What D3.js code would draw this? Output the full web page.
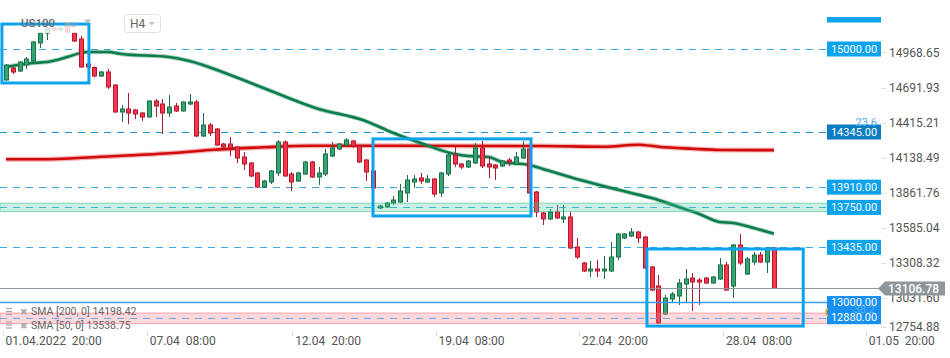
<!DOCTYPE html>
<html><head><meta charset="utf-8">
<script src="https://cdn.jsdelivr.net/npm/d3@7"></script>
<style>
html,body{margin:0;padding:0;background:#fff;}
svg{display:block;font-family:Roboto,"Noto Sans",sans-serif;}
</style></head><body>
<svg id="c" width="950" height="358"></svg>
<script>
// ---------- data ----------
const openP  = [14751.5,14846.1,14822.4,14869.8,14901.4,15043.4,15122.3,15161.7,15145.9,15161.7,15122.3,15074.9,14877.6,14850.0,14783.0,14814.6,14712.0,14499.0,14522.7,14514.8,14491.1,14459.6,14585.8,14562.1,14491.1,14546.3,14506.9,14562.1,14577.9,14309.6,14396.4,14364.9,14246.5,14246.5,14222.9,14144.0,14096.6,14017.7,13907.3,13946.7,14017.7,14262.3,14009.8,13954.6,14009.8,14104.5,13986.2,14009.8,14151.8,14207.1,14238.6,14270.2,14230.7,14120.3,14033.5,13741.6,13749.5,13781.0,13788.9,13859.9,13946.7,13978.3,13946.7,13970.4,13859.9,14009.8,14159.7,14088.7,14065.1,14096.6,14215.0,14088.7,14080.8,14072.9,14120.3,14088.7,14136.1,14207.1,13867.8,13702.1,13654.8,13710.0,13654.8,13670.6,13433.8,13307.6,13244.5,13260.2,13244.5,13244.5,13354.9,13504.8,13520.6,13552.2,13512.7,13276.0,13126.1,12905.3,13023.6,13047.3,13141.9,13189.2,13173.4,13189.2,13149.8,13181.3,13291.8,13126.1,13449.6,13220.8,13315.5,13370.7,13315.5,13425.9];
const highP  = [14877.6,14854.0,14901.4,14932.9,15059.2,15130.2,15169.6,15169.6,15169.6,15165.6,15130.2,15098.6,14885.6,14858.0,14822.4,14838.3,14716.0,14554.2,14648.9,14522.7,14499.0,14590.0,14601.6,14601.6,14633.1,14570.0,14582.0,14641.0,14593.7,14491.1,14412.2,14372.8,14254.4,14301.7,14230.7,14183.4,14104.5,14025.6,13962.5,14041.4,14278.1,14274.0,14025.6,14025.6,14112.4,14112.4,14065.1,14207.1,14262.3,14254.4,14293.8,14278.1,14238.6,14128.2,14041.4,13765.3,13788.9,13836.3,13930.9,14001.9,14001.9,14017.7,14001.9,13978.3,14025.6,14183.4,14238.6,14096.6,14120.3,14254.4,14270.2,14144.0,14088.7,14120.3,14136.1,14183.4,14270.2,14215.0,13875.7,13710.0,13733.7,13765.3,13765.3,13710.0,13504.8,13315.5,13323.4,13331.2,13362.8,13473.3,13544.3,13544.3,13583.8,13560.1,13520.6,13284.0,13212.9,13055.2,13078.8,13181.3,13260.2,13228.7,13189.2,13197.1,13205.0,13347.0,13315.5,13457.5,13536.4,13354.9,13394.4,13394.4,13433.8,13433.8];
const lowP   = [14743.6,14798.8,14814.6,14838.3,14893.5,15003.9,15067.0,15138.0,15138.0,15122.3,15051.3,14850.0,14846.1,14771.0,14775.1,14680.4,14495.0,14420.1,14404.3,14443.8,14428.0,14455.0,14459.6,14325.4,14459.6,14499.0,14503.0,14554.2,14301.7,14301.7,14309.6,14230.7,14215.0,14151.8,14096.6,14041.4,13986.2,13899.4,13899.4,13930.9,13994.1,13990.0,13875.7,13946.7,14001.9,13978.3,13923.1,13994.1,14144.0,14199.2,14230.7,14215.0,14096.6,13954.6,13883.6,13733.7,13741.6,13765.3,13781.0,13788.9,13899.4,13930.9,13938.8,13828.4,13828.4,13994.1,14065.1,14049.3,14057.2,14088.7,14057.2,13978.3,13962.5,14065.1,14072.9,14080.8,14128.2,13852.0,13670.6,13607.4,13646.9,13654.8,13623.2,13418.0,13339.1,13236.6,13197.1,13197.1,13181.3,13236.6,13331.2,13497.0,13512.7,13465.4,13260.2,13087.0,12826.0,12897.0,12992.1,12976.3,12992.1,12929.0,12976.3,13141.9,13141.9,13173.4,13087.0,13031.5,13291.8,13212.9,13291.8,13307.6,13228.7,13103.0];
const closeP = [14869.8,14814.6,14893.5,14917.2,15051.3,15122.3,15161.7,15145.9,15161.7,15130.2,15059.2,14854.0,14854.0,14783.0,14814.6,14696.2,14499.0,14522.7,14491.1,14483.2,14459.6,14585.8,14546.3,14491.1,14538.4,14506.9,14577.9,14577.9,14309.6,14396.4,14333.3,14238.6,14222.9,14215.0,14136.1,14088.7,13994.1,13907.3,13954.6,14033.5,14262.3,13994.1,13946.7,14017.7,14104.5,13986.2,14017.7,14167.6,14215.0,14246.5,14278.1,14230.7,14104.5,14025.6,13899.4,13757.4,13781.0,13804.7,13875.7,13962.5,13970.4,13954.6,13970.4,13852.0,14017.7,14159.7,14088.7,14065.1,14112.4,14215.0,14072.9,14065.1,14057.2,14112.4,14104.5,14144.0,14207.1,13859.9,13710.0,13654.8,13710.0,13662.7,13670.6,13425.9,13354.9,13244.5,13260.2,13244.5,13260.2,13354.9,13536.4,13536.4,13552.2,13504.8,13268.1,13094.6,12834.3,13031.5,13063.0,13149.8,13181.3,13157.7,13157.7,13149.8,13197.1,13291.8,13094.6,13449.6,13307.6,13339.1,13370.7,13315.5,13425.9,13106.78];

const sma50Idx = [0,4,6,9,11,12,15,17,24,27,33,39,46,52.5,57,61,66,68,71,73,77,79,84.5,88.4,92,95,99,102,105,107,110,113];
const sma50Val = [14854.0,14885.6,14893.5,14932.9,14964.5,14972.4,14972.4,14956.6,14932.9,14901.4,14790.9,14664.7,14522.7,14435.9,14333.3,14254.4,14167.6,14151.8,14144.0,14104.5,14080.8,14049.3,13962.5,13907.3,13859.9,13820.4,13749.5,13694.3,13631.2,13623.2,13583.8,13538.75];
const sma200Idx = [0,5,14,24,30,38,45,58,79,88,93,96,101,105,113];
const sma200Val = [14125.8,14125.8,14146.3,14173.1,14199.2,14220.5,14232.3,14232.3,14230.7,14225.2,14241.0,14225.2,14209.4,14199.2,14198.42];

const priceTicks = [14968.65,14691.93,14415.21,14138.49,13861.76,13585.04,13308.32,13031.60,12754.88];
const timeTickPos = [-0.5,20.7,42.1,63.2,84.3,105.5,126.5];
const timeTickLabels = ["01.04.2022  20:00","07.04  08:00","12.04  20:00","19.04  08:00","22.04  20:00","28.04  08:00","01.05  20:00"];

const dashedLevels = [15000,14345,13910,13750,13435];
const levelLabels  = ["15000.00","14345.00","13910.00","13750.00","13435.00"];
const lastPrice = 13106.78;
const solidLevel = 13000;
const zoneGreen = [13780,13714];
const zonePink  = [12913,12830];
const pinkLine  = 12870;
const boxes = [ // [idx0, idx1, priceTop, priceBottom]
  [-0.6,12.2,15193,14728],
  [54.0,77.25,14287,13679],
  [94.3,117.3,13418,12810]
];
const smaLegend = ["SMA [200, 0] 14198.42","SMA [50, 0] 13538.75"];

// ---------- scales ----------
const svg = d3.select("#c");
const x = d3.scaleLinear().domain([0,113]).range([6,774]);
const y = d3.scaleLinear().domain([12880,15000]).range([317.2,48.5]);

const BLUE = "#0ca3ec";
const candles = openP.map((o,i)=>({i,o,h:highP[i],l:lowP[i],c:closeP[i]}));

// ---------- horizontal levels ----------
const gL = svg.append("g");
gL.selectAll("line.lv").data(dashedLevels).join("line")
  .attr("x1",0).attr("x2",827)
  .attr("y1",d=>Math.round(y(d))+0.5).attr("y2",d=>Math.round(y(d))+0.5)
  .attr("stroke",(d,i)=>i===1?"#1f93d8":"#3aa9e6")
  .attr("stroke-width",1).attr("stroke-dasharray","7,6");

// SMA lines
const lineGen = d3.line().x(d=>x(d[0])).y(d=>y(d[1])).curve(d3.curveMonotoneX);
const s200 = sma200Idx.map((d,i)=>[d,sma200Val[i]]);
const s50 = sma50Idx.map((d,i)=>[d,sma50Val[i]]);
svg.append("path").attr("d",lineGen(s200)).attr("fill","none").attr("stroke","rgba(225,40,40,0.35)").attr("stroke-width",5);
svg.append("path").attr("d",lineGen(s200)).attr("fill","none").attr("stroke","#d10a0a").attr("stroke-width",2.6);
svg.append("path").attr("d",lineGen(s50)).attr("fill","none").attr("stroke","rgba(20,130,80,0.35)").attr("stroke-width",4.5);
svg.append("path").attr("d",lineGen(s50)).attr("fill","none").attr("stroke","#0e7d4d").attr("stroke-width",2.6);

// candles
const gC = svg.append("g");
const up = d=>d.c>=d.o;
gC.selectAll("line.w").data(candles).join("line")
  .attr("x1",d=>Math.round(x(d.i))+0.5).attr("x2",d=>Math.round(x(d.i))+0.5)
  .attr("y1",d=>y(d.h)).attr("y2",d=>y(d.l))
  .attr("stroke",d=>up(d)?"#1b6e47":"#b3162e").attr("stroke-width",1);
gC.selectAll("rect.b").data(candles).join("rect")
  .attr("x",d=>Math.round(x(d.i))-1.5).attr("width",4)
  .attr("y",d=>Math.min(y(d.o),y(d.c)))
  .attr("height",d=>Math.max(1.5,Math.abs(y(d.o)-y(d.c))))
  .attr("fill",d=>up(d)?"#34a571":"#f5364b")
  .attr("stroke",d=>up(d)?"#1b6e47":"#b3162e").attr("stroke-width",1);

// current price line & solid level
svg.append("line").attr("x1",0).attr("x2",880).attr("y1",Math.round(y(lastPrice))+0.5).attr("y2",Math.round(y(lastPrice))+0.5)
  .attr("stroke","#8d969b").attr("stroke-width",1);
svg.append("line").attr("x1",0).attr("x2",827).attr("y1",Math.round(y(solidLevel))+0.5).attr("y2",Math.round(y(solidLevel))+0.5)
  .attr("stroke","#3a9cf0").attr("stroke-width",1.3);

// zones
svg.append("rect").attr("x",0).attr("width",829).attr("y",y(zoneGreen[0])).attr("height",y(zoneGreen[1])-y(zoneGreen[0]))
  .attr("fill","rgba(60,200,150,0.28)").attr("stroke","rgba(60,190,140,0.55)").attr("stroke-width",1);
svg.append("rect").attr("x",0).attr("width",829).attr("y",y(zonePink[0])).attr("height",y(zonePink[1])-y(zonePink[0]))
  .attr("fill","rgba(245,120,130,0.28)").attr("stroke","rgba(240,110,120,0.55)").attr("stroke-width",1);
svg.append("line").attr("x1",0).attr("x2",827).attr("y1",y(pinkLine)).attr("y2",y(pinkLine))
  .attr("stroke","#6aa8e0").attr("stroke-width",1).attr("stroke-dasharray","7,6");

// title background
svg.append("rect").attr("x",10).attr("y",6).attr("width",100).attr("height",27).attr("fill","rgba(255,255,255,0.8)");

// drawn boxes
svg.selectAll("rect.box").data(boxes).join("rect")
  .attr("x",d=>x(d[0])).attr("y",d=>y(d[2]))
  .attr("width",d=>x(d[1])-x(d[0])).attr("height",d=>y(d[3])-y(d[2]))
  .attr("fill","none").attr("stroke",BLUE).attr("stroke-width",3);

// title
svg.append("text").attr("x",21).attr("y",27).text("US100").attr("font-size",11.5).attr("font-weight",500).attr("fill","#666");
svg.append("text").attr("x",64).attr("y",27).text("IND").attr("font-size",7.5).attr("fill","#aaa");
svg.append("path").attr("d","M84,19.5 L91,19.5 L87.5,23.5 Z").attr("fill","#bbb");
svg.append("rect").attr("x",124.5).attr("y",14.5).attr("width",36).attr("height",18).attr("rx",3)
  .attr("fill","#fff").attr("stroke","#e2e2e2");
svg.append("text").attr("x",130).attr("y",27.5).text("H4").attr("font-size",12).attr("fill","#666");
svg.append("path").attr("d","M148.5,22 L155,22 L151.75,25.5 Z").attr("fill","#c4c4c4");

// legend
const gLeg = svg.append("g");
smaLegend.forEach((t,i)=>{
  const cy = 311.5 + i*13.5;
  [ -3, 0, 3 ].forEach(dy=>gLeg.append("line").attr("x1",6).attr("x2",12).attr("y1",cy+dy).attr("y2",cy+dy).attr("stroke","#a9a9a9").attr("stroke-width",1.3));
  gLeg.append("text").attr("x",20).attr("y",cy+3.5).text("\u2716").attr("font-size",8.5).attr("fill","#a9a9a9");
  gLeg.append("text").attr("x",31).attr("y",cy+3.8).text(t).attr("font-size",10.5).attr("fill","#666");
});

// right labels
svg.append("rect").attr("x",827).attr("y",17).attr("width",54).attr("height",5.5).attr("fill",BLUE);
const gLab = svg.append("g");
dashedLevels.forEach((lv,i)=>{
  const yy = y(lv);
  gLab.append("rect").attr("x",827).attr("y",yy-7).attr("width",54).attr("height",15)
    .attr("fill",i===1?"#0a7cc2":BLUE);
  gLab.append("text").attr("x",854).attr("y",yy+4.4).attr("text-anchor","middle").text(levelLabels[i])
    .attr("font-size",11).attr("fill","#fff");
});
gLab.append("rect").attr("x",827).attr("y",y(solidLevel)-6).attr("width",54).attr("height",y(12880)-y(solidLevel)+13).attr("fill","#1890f2");
gLab.append("text").attr("x",854).attr("y",y(solidLevel)+4.2).attr("text-anchor","middle").text("13000.00").attr("font-size",11).attr("fill","#fff");
gLab.append("text").attr("x",854).attr("y",y(12880)+4.2).attr("text-anchor","middle").text("12880.00").attr("font-size",11).attr("fill","#fff");
gLab.append("text").attr("x",875).attr("y",y(12880)-4.5).attr("text-anchor","end").text("38.2").attr("font-size",11).attr("fill","rgba(140,210,255,0.55)");
gLab.append("path").attr("d",`M828,${y(12880)-9} A5,5 0 0 0 828,${y(12880)-1}`).attr("fill","none").attr("stroke","#f5a623").attr("stroke-width",1.5);
gLab.append("text").attr("x",877).attr("y",y(14345)-5.8).attr("text-anchor","end").text("23.6").attr("font-size",11).attr("fill","#45aee8");

// right axis
const gY = svg.append("g");
priceTicks.forEach(p=>{
  const yy = Math.min(y(p),327);
  gY.append("line").attr("x1",881).attr("x2",886).attr("y1",Math.round(yy)+0.5).attr("y2",Math.round(yy)+0.5).attr("stroke","#ddd");
  gY.append("text").attr("x",889).attr("y",yy+4.3).text(p.toFixed(2)).attr("font-size",12).attr("fill","#555");
});
// last price tag
const ly = y(lastPrice);
svg.append("path").attr("d",`M878,${ly} L885,${ly-7} L945,${ly-7} L945,${ly+7} L885,${ly+7} Z`).attr("fill","#8d969b");
svg.append("text").attr("x",888).attr("y",ly+4.4).text(lastPrice.toFixed(2)).attr("font-size",12).attr("font-weight",500).attr("fill","#fff");

// x axis
const gX = svg.append("g");
timeTickPos.forEach((t,i)=>{
  const xx = Math.round(x(t))+0.5;
  gX.append("line").attr("x1",xx).attr("x2",xx).attr("y1",331).attr("y2",336).attr("stroke","#ddd");
  gX.append("text").attr("x",x(t)+3).attr("y",345).style("white-space","pre").text(timeTickLabels[i])
    .attr("font-size",12).attr("fill","#555");
});
</script>
</body></html>
